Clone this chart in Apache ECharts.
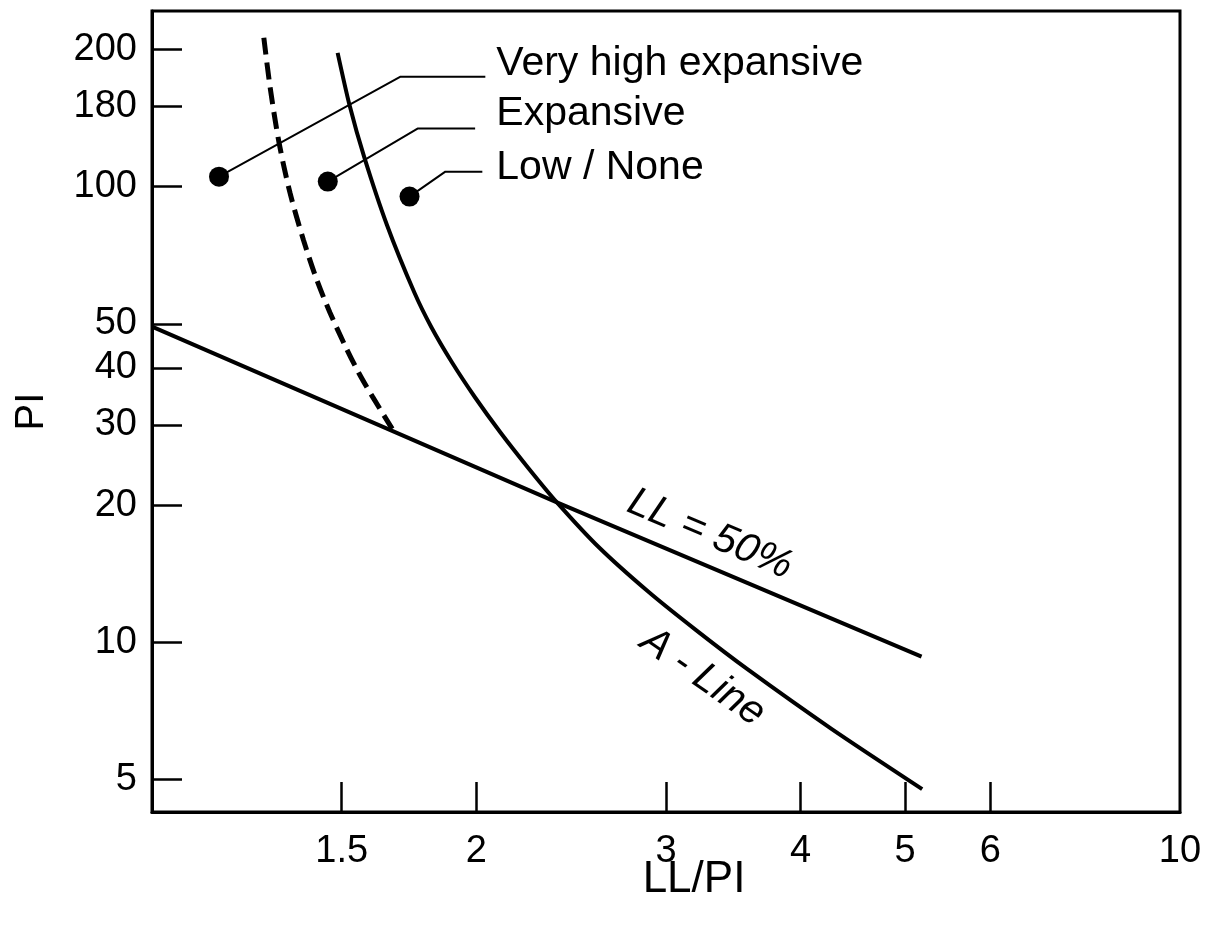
<!DOCTYPE html>
<html>
<head>
<meta charset="utf-8">
<script src="https://cdn.jsdelivr.net/npm/echarts@6/dist/echarts.min.js"></script>
<style>
html, body { margin: 0; padding: 0; background: #fff; }
#chart { width: 1209px; height: 925px; }
</style>
</head>
<body>
<div id="chart"></div>
<script>
// axes (log-log). the source drawing labels its 150 tick "180" and its right edge (about 9) "10"
var xMin = 1, xMax = 9;
var yMin = 4.24, yMax = 243;
var xTickValues = [1.5, 2, 3, 4, 5, 6];
var xLabelValues = [1.5, 2, 3, 4, 5, 6, 9];
var xLabelTexts = ['1.5', '2', '3', '4', '5', '6', '10'];
var yTickValues = [5, 10, 20, 30, 40, 50, 100, 150, 200];
var yLabelTexts = ['5', '10', '20', '30', '40', '50', '100', '180', '200'];

// curves, [LL/PI, PI]
var llLine = [[1.0, 49.3], [2.376, 20.28], [5.18, 9.3]];
var aLine = [
    [1.487, 196.7], [1.525, 151.3], [1.5735, 116.4], [1.652, 82.5], [1.752, 58.55],
    [1.8175, 49.07], [1.899, 41.11], [1.995, 34.45], [2.106, 28.87], [2.233, 24.2],
    [2.376, 20.28], [2.599, 16.16], [2.893, 12.87], [3.199, 10.63], [3.570, 8.726],
    [4.276, 6.447], [5.187, 4.76]
];
var dashedLine = [
    [1.270, 212.3], [1.287, 165.7], [1.312, 124.9], [1.343, 97.0], [1.382, 76.5],
    [1.422, 62.5], [1.463, 52.9], [1.512, 44.6], [1.555, 39.1], [1.602, 34.6],
    [1.671, 29.4]
];

// markers with leader lines
var classNames = ['Very high expansive', 'Expansive', 'Low / None'];
var classDots = [[1.154, 105.2], [1.456, 102.6], [1.734, 95.1]];
var leaders = [
    [[1.154, 105.2], [1.701, 174.3], [2.039, 174.3]],
    [[1.456, 102.6], [1.764, 134.1], [1.995, 134.1]],
    [[1.734, 95.1], [1.872, 107.9], [2.026, 107.9]]
];
var classLabelAt = [[2.083, 186.1], [2.083, 144.6], [2.083, 110.1]];

var curveNames = ['LL = 50%', 'A - Line'];
var curveLabelAt = [[3.295, 17.25], [3.245, 8.38]];
var curveLabelRotate = [-23, -35];

var FONT = 'Liberation Sans, Arial, sans-serif';

function pickText(values, texts, v) {
    var best = 0, bestErr = Infinity;
    for (var i = 0; i < values.length; i++) {
        var err = Math.abs(Math.log(v / values[i]));
        if (err < bestErr) { bestErr = err; best = i; }
    }
    return texts[best];
}

var chart = echarts.init(document.getElementById('chart'), null, {renderer: 'canvas'});

var series = [
    {
        type: 'line', data: llLine, symbol: 'none', silent: true,
        lineStyle: {color: '#000', width: 4}
    },
    {
        type: 'line', data: aLine, symbol: 'none', smooth: 0.25, silent: true,
        lineStyle: {color: '#000', width: 4}
    },
    {
        type: 'line', data: dashedLine, symbol: 'none', smooth: 0.3, silent: true,
        lineStyle: {color: '#000', width: 5, type: [17, 8]}
    }
];
leaders.forEach(function (pts) {
    series.push({
        type: 'line', data: pts, symbol: 'none', silent: true,
        lineStyle: {color: '#000', width: 2}
    });
});
series.push({
    type: 'scatter', data: classDots, symbol: 'circle', symbolSize: 20,
    itemStyle: {color: '#000', opacity: 1}, z: 5
});
series.push({
    type: 'scatter', symbolSize: 2, silent: true,
    itemStyle: {color: 'rgba(0,0,0,0)', opacity: 1},
    data: classLabelAt.map(function (p, i) { return {value: p, name: classNames[i]}; }),
    label: {
        show: true, position: 'right', distance: 0, formatter: '{b}',
        color: '#000', fontSize: 41, fontFamily: FONT
    }
});
series.push({
    type: 'scatter', symbolSize: 2, silent: true,
    itemStyle: {color: 'rgba(0,0,0,0)', opacity: 1},
    data: curveLabelAt.map(function (p, i) {
        return {value: p, name: curveNames[i], label: {rotate: curveLabelRotate[i]}};
    }),
    label: {
        show: true, position: 'inside', formatter: '{b}',
        color: '#000', fontSize: 41, fontStyle: 'italic', fontFamily: FONT
    }
});

var option = {
    animation: false,
    backgroundColor: '#fff',
    grid: {
        left: 152, right: 29, top: 11, bottom: 113,
        show: true, borderColor: '#000', borderWidth: 3,
        outerBoundsMode: 'none'
    },
    xAxis: {
        type: 'log', logBase: 10, min: xMin, max: xMax,
        name: 'LL/PI', nameLocation: 'middle', nameGap: 46, nameMoveOverlap: false,
        nameTextStyle: {color: '#000', fontSize: 44, fontFamily: FONT, padding: [0, 0, 0, 56]},
        axisLine: {lineStyle: {color: '#000', width: 3}},
        axisTick: {inside: true, length: 30, lineStyle: {color: '#000', width: 2.5}, customValues: xTickValues},
        axisLabel: {
            color: '#000', fontSize: 38, fontFamily: FONT, margin: 21,
            customValues: xLabelValues,
            formatter: function (v) { return pickText(xLabelValues, xLabelTexts, v); }
        },
        splitLine: {show: false},
        minorTick: {show: false}
    },
    yAxis: {
        type: 'log', logBase: 10, min: yMin, max: yMax,
        name: 'PI', nameLocation: 'middle', nameGap: 100, nameRotate: 90, nameMoveOverlap: false,
        nameTextStyle: {color: '#000', fontSize: 40, fontFamily: FONT},
        axisLine: {lineStyle: {color: '#000', width: 3}},
        axisTick: {inside: true, length: 30, lineStyle: {color: '#000', width: 2.5}, customValues: yTickValues},
        axisLabel: {
            color: '#000', fontSize: 38, fontFamily: FONT, margin: 15,
            customValues: yTickValues,
            formatter: function (v) { return pickText(yTickValues, yLabelTexts, v); }
        },
        splitLine: {show: false},
        minorTick: {show: false}
    },
    series: series
};
chart.setOption(option);
</script>
</body>
</html>
